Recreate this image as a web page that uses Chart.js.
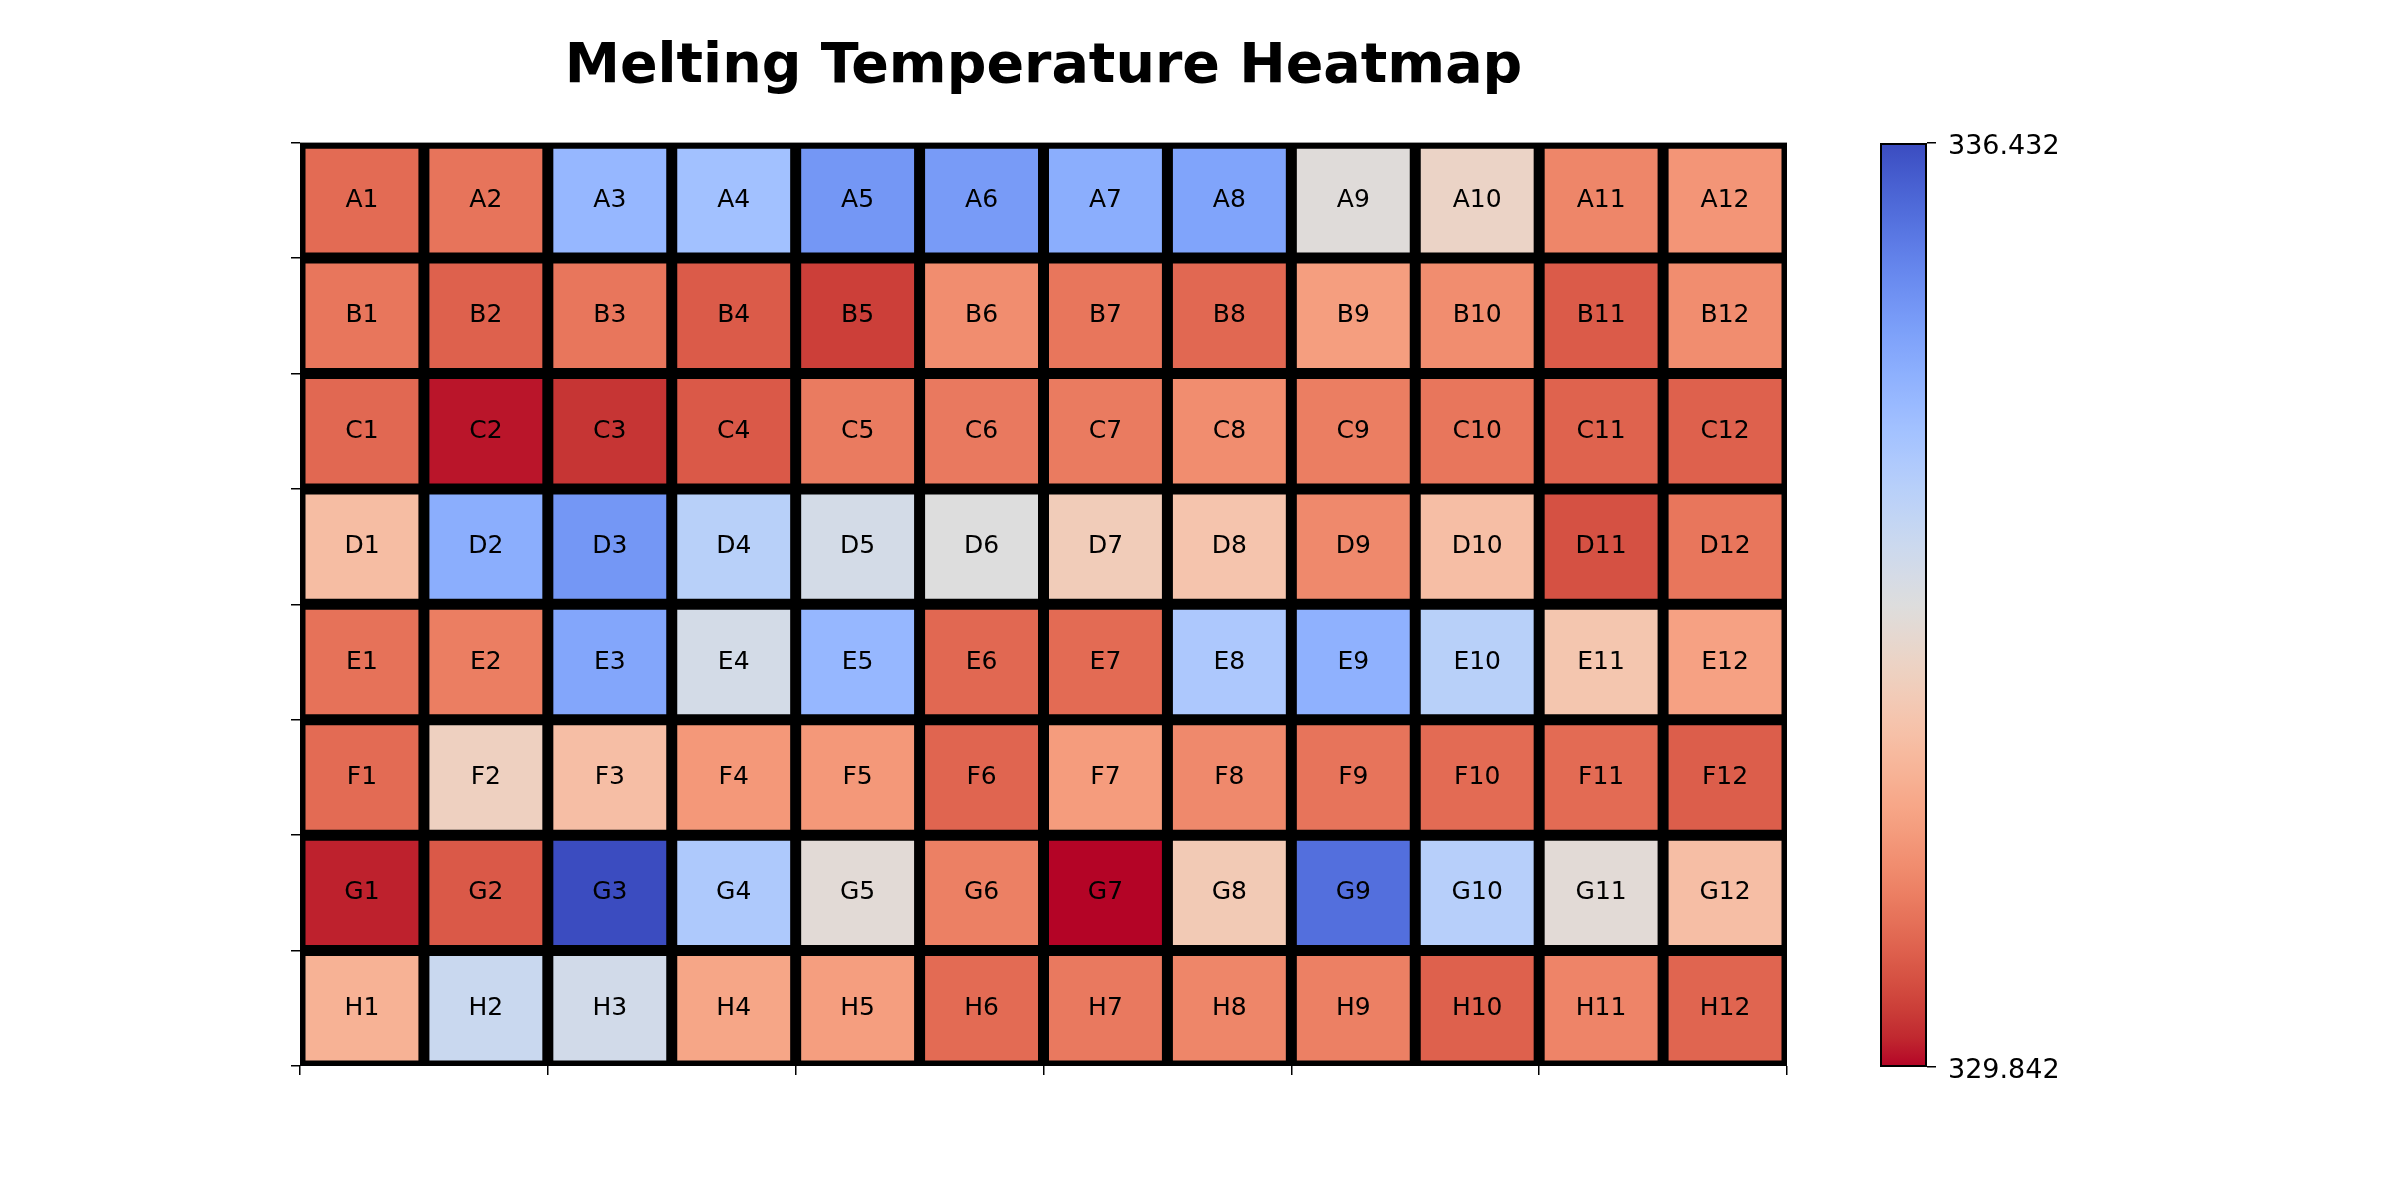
<!DOCTYPE html>
<html><head><meta charset="utf-8">
<script src="https://cdn.jsdelivr.net/npm/chart.js@4.4.0/dist/chart.umd.min.js"></script>
<style>
html,body{margin:0;padding:0;background:#fff;}
#wrap{position:relative;width:2400px;height:1200px;background:#fff;}
canvas{position:absolute;top:0;}
</style></head><body>
<div id="wrap">
<canvas id="main" width="2400" height="1200" style="left:0"></canvas>
<canvas id="cbar" width="600" height="1200" style="left:1800px"></canvas>
</div>
<script>
// ---- data ----
const rowLabels = ['A','B','C','D','E','F','G','H'];
const colLabels = [1,2,3,4,5,6,7,8,9,10,11,12];
const rowA = [330.80, 330.93, 334.62, 334.39, 335.25, 335.18, 334.82, 335.02, 333.07, 332.74, 331.19, 331.42];
const rowB = [330.96, 330.67, 330.96, 330.60, 330.27, 331.29, 330.96, 330.77, 331.56, 331.29, 330.60, 331.29];
const rowC = [330.77, 329.94, 330.17, 330.57, 331.03, 331.00, 331.03, 331.29, 331.06, 330.96, 330.70, 330.67];
const rowD = [332.15, 334.82, 335.25, 333.96, 333.37, 333.14, 332.51, 332.31, 331.23, 332.18, 330.47, 330.96];
const rowE = [330.90, 331.06, 334.98, 333.37, 334.62, 330.77, 330.80, 334.19, 334.75, 333.96, 332.35, 331.62];
const rowF = [330.80, 332.64, 332.18, 331.46, 331.46, 330.73, 331.52, 331.23, 330.93, 330.80, 330.80, 330.63];
const rowG = [330.01, 330.57, 336.432, 334.16, 333.01, 331.09, 329.842, 332.45, 335.91, 333.99, 333.01, 332.18];
const rowH = [331.92, 333.60, 333.43, 331.69, 331.56, 330.80, 331.00, 331.19, 331.09, 330.67, 331.16, 330.73];
const values = [rowA, rowB, rowC, rowD, rowE, rowF, rowG, rowH];
const titleText = 'Melting Temperature Heatmap';

// ---- coolwarm colormap (matplotlib), used reversed ----
const CW_R = [0.2298057,0.26623388,0.30386891,0.342804478,0.38301334,0.424369608,0.46666708,0.509635204,0.552953156,0.596262162,0.639176211,0.681291281,0.722193294,0.761464949,0.798691636,0.833466556,0.865395197,0.897787179,0.924127593,0.944468518,0.958852946,0.96732803,0.969954137,0.966811177,0.958003065,0.943660866,0.923944917,0.89904617,0.869186849,0.834620542,0.795631745,0.752534934,0.705673158];
const CW_G = [0.298717966,0.353094838,0.406535296,0.458757618,0.50941904,0.558148092,0.604562568,0.648280772,0.688929332,0.726149107,0.759599947,0.788964712,0.813952739,0.834302879,0.849786142,0.860207984,0.86541021,0.848937047,0.827384882,0.800927443,0.769767752,0.734132809,0.694266682,0.650421156,0.602842431,0.551750968,0.49730856,0.439559467,0.378313092,0.312874446,0.24128379,0.157246067,0.01555616];
const CW_B = [0.753683153,0.801466763,0.84495867,0.883725899,0.917387822,0.945619588,0.968154911,0.98478814,0.995375608,0.999836203,0.998151185,0.990363227,0.976574709,0.956945269,0.931688648,0.901068838,0.865395561,0.820880546,0.774508472,0.726736146,0.678007945,0.628751763,0.579375448,0.530263762,0.481775914,0.434243684,0.387970225,0.343229596,0.300267182,0.259301199,0.220525627,0.184115123,0.150232812];
function coolwarm(s){
  s = Math.max(0, Math.min(1, s));
  const f = s * 32, i = Math.min(31, Math.floor(f)), t = f - i;
  const lerp = a => a[i] + (a[i+1] - a[i]) * t;
  return 'rgb(' + Math.round(lerp(CW_R)*255) + ',' + Math.round(lerp(CW_G)*255) + ',' + Math.round(lerp(CW_B)*255) + ')';
}
const allVals = values.flat();
const vMin = Math.min(...allVals), vMax = Math.max(...allVals);
const colorFor = v => coolwarm(1 - (v - vMin) / (vMax - vMin));

// ---- main heatmap ----
const datasets = values.map((row, r) => ({
  label: rowLabels[r],
  data: row.map((v, c) => ({ x: c + 0.5, y: [r, r + 1] })),
  backgroundColor: row.map(v => colorFor(v)),
  borderColor: '#000',
  borderWidth: 5.5,
  borderSkipped: false,
  inflateAmount: 0,
  grouped: false,
  barPercentage: 1,
  categoryPercentage: 1
}));

// black backing behind the cells (cell edges), so no seams show between bars
const areaBacking = {
  id: 'areaBacking',
  beforeDatasetsDraw(chart) {
    const a = chart.chartArea, ctx = chart.ctx;
    ctx.save();
    ctx.fillStyle = '#000';
    ctx.fillRect(a.left, a.top, a.right - a.left, a.bottom - a.top);
    ctx.restore();
  }
};

const cellLabels = {
  id: 'cellLabels',
  afterDatasetsDraw(chart) {
    const ctx = chart.ctx;
    ctx.save();
    ctx.font = '25px "DejaVu Sans"';
    ctx.fillStyle = '#000';
    ctx.textAlign = 'center';
    ctx.textBaseline = 'middle';
    chart.data.datasets.forEach((ds, r) => {
      chart.getDatasetMeta(r).data.forEach((bar, c) => {
        const p = bar.getProps(['x', 'y', 'base'], true);
        ctx.fillText(rowLabels[r] + colLabels[c], p.x, (p.y + p.base) / 2);
      });
    });
    ctx.restore();
  }
};

const tickGrid = { drawOnChartArea: false, drawTicks: true, tickLength: 9, color: '#000', lineWidth: 1.5, offset: false };

new Chart(document.getElementById('main'), {
  type: 'bar',
  data: { datasets },
  plugins: [areaBacking, cellLabels],
  options: {
    responsive: false, animation: false, devicePixelRatio: 1,
    layout: { padding: { left: 300, right: 613, top: 0, bottom: 124 } },
    plugins: {
      legend: { display: false }, tooltip: { enabled: false },
      title: { display: true, text: titleText, color: '#000',
        font: { family: 'DejaVu Sans', size: 55.5, weight: 'bold' },
        padding: { top: 34, bottom: 42 } }
    },
    scales: {
      x: { type: 'linear', min: 0, max: 12, offset: false,
        afterFit(s) { s.height = 10; },
        ticks: { stepSize: 2, autoSkip: false, callback: () => '' },
        grid: tickGrid, border: { display: false } },
      y: { type: 'linear', min: 0, max: 8, reverse: true,
        afterFit(s) { s.width = 0; },
        ticks: { stepSize: 1, autoSkip: false, callback: () => '' },
        grid: tickGrid, border: { display: false } }
    }
  }
});

// ---- colorbar ----
function cbarGradient(chart) {
  const a = chart.chartArea;
  if (!a) return null;
  const g = chart.ctx.createLinearGradient(0, a.bottom, 0, a.top);
  for (let k = 0; k <= 64; k++) g.addColorStop(k / 64, coolwarm(1 - k / 64));
  return g;
}
new Chart(document.getElementById('cbar'), {
  type: 'bar',
  data: { labels: [''], datasets: [{
    data: [[vMin, vMax]],
    backgroundColor: ctx => cbarGradient(ctx.chart),
    borderColor: '#000', borderWidth: 2, borderSkipped: false, inflateAmount: 0,
    barPercentage: 1, categoryPercentage: 1 }] },
  options: {
    responsive: false, animation: false, devicePixelRatio: 1,
    layout: { padding: { left: 80, right: 0, top: 143, bottom: 133 } },
    plugins: { legend: { display: false }, tooltip: { enabled: false } },
    scales: {
      x: { display: false },
      y: { position: 'right', min: vMin, max: vMax,
        afterFit(s) { s.width = 473; },
        afterBuildTicks(s) { s.ticks = [{ value: vMin }, { value: vMax }]; },
        ticks: { autoSkip: false, padding: 12, labelOffset: 4, color: '#000',
          font: { family: 'DejaVu Sans', size: 27 },
          callback: v => Number(v).toFixed(3) },
        grid: { drawOnChartArea: false, drawTicks: true, tickLength: 9, color: '#000', lineWidth: 1.5 },
        border: { display: false } }
    }
  }
});
</script>
</body></html>
